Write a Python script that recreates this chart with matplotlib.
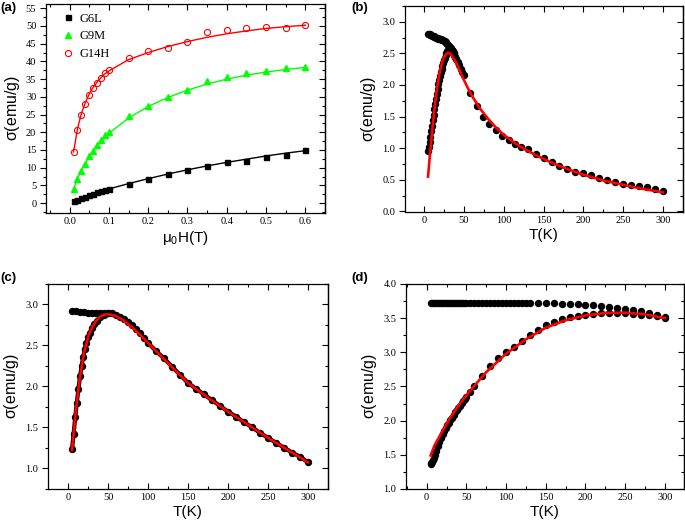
import matplotlib
matplotlib.use("Agg")
import matplotlib.pyplot as plt
from matplotlib.ticker import MultipleLocator

# ---- panel (a): magnetization vs field ----
H = [0.01, 0.02, 0.03, 0.04, 0.05, 0.06, 0.07, 0.08, 0.09, 0.1,
     0.15, 0.2, 0.25, 0.3, 0.35, 0.4, 0.45, 0.5, 0.55, 0.6]
g6l = [0.6, 1.0, 1.4, 1.8, 2.2, 2.6, 3.0, 3.3, 3.6, 3.9,
       5.4, 6.9, 8.3, 9.4, 10.6, 11.7, 12.0, 13.0, 13.7, 14.9]
g9m = [3.9, 6.8, 9.0, 11.1, 13.3, 14.8, 16.4, 17.8, 19.1, 20.1,
       24.5, 27.5, 29.9, 31.9, 34.4, 35.5, 36.7, 37.4, 38.1, 38.3]
g14h = [14.4, 20.5, 24.8, 27.9, 30.4, 32.4, 33.8, 35.4, 36.7, 37.5,
        40.9, 42.8, 43.9, 45.5, 48.2, 48.8, 49.4, 49.8, 49.4, 50.3]
g6l_fit = [0.5, 0.95, 1.4, 1.8, 2.2, 2.6, 3.0, 3.35, 3.7, 4.0,
           5.5, 6.9, 8.2, 9.4, 10.5, 11.5, 12.4, 13.3, 14.1, 14.8]
g9m_fit = [3.9, 6.9, 9.3, 11.3, 13.1, 14.7, 16.1, 17.4, 18.6, 19.7,
           24.0, 27.3, 29.8, 31.9, 33.6, 35.0, 36.1, 37.0, 37.7, 38.3]
g14h_fit = [14.4, 21.0, 25.3, 28.4, 30.8, 32.7, 34.2, 35.4, 36.5, 37.3,
            40.5, 42.5, 44.2, 45.6, 46.8, 47.8, 48.6, 49.3, 49.8, 50.2]

# ---- panel (b) ----
b_zfc_T = [5, 6, 7, 8, 9, 10, 11, 12, 13, 14, 15, 16, 17, 18, 19, 20, 21, 22, 23, 24,
           25, 26, 27, 28, 29, 30, 31, 32, 33, 34, 35, 36, 37, 38, 39, 40, 42, 44, 46, 48,
           50, 58, 66, 74, 82, 90, 98, 106, 114, 122, 130, 140, 150, 160, 170, 180, 190,
           200, 210, 220, 230, 240, 250, 260, 270, 280, 290, 300]
b_zfc = [0.95, 1.02, 1.10, 1.18, 1.27, 1.35, 1.44, 1.53, 1.62, 1.70, 1.78, 1.86, 1.94,
         2.01, 2.08, 2.14, 2.20, 2.25, 2.30, 2.35, 2.39, 2.43, 2.47, 2.51, 2.54, 2.56,
         2.58, 2.59, 2.59, 2.58, 2.56, 2.53, 2.50, 2.47, 2.44, 2.41, 2.36, 2.31, 2.25,
         2.20, 2.15, 1.88, 1.66, 1.50, 1.38, 1.28, 1.20, 1.13, 1.07, 1.02, 0.98, 0.91,
         0.84, 0.78, 0.72, 0.67, 0.63, 0.60, 0.57, 0.53, 0.50, 0.47, 0.44, 0.42, 0.40,
         0.38, 0.36, 0.33]
b_fc_T = [5, 6, 7, 8, 9, 10, 11, 12, 13, 14, 15, 16, 17, 18, 19, 20, 21, 22, 23, 24,
          25, 26, 27, 28, 29, 30, 31, 32, 33, 34, 35, 36, 37, 38, 39, 40]
b_fc = [2.81, 2.805, 2.80, 2.79, 2.785, 2.78, 2.775, 2.77, 2.765, 2.76, 2.75, 2.745,
        2.74, 2.735, 2.73, 2.725, 2.72, 2.715, 2.71, 2.705, 2.70, 2.69, 2.68, 2.665,
        2.65, 2.63, 2.615, 2.60, 2.58, 2.565, 2.55, 2.52, 2.50, 2.47, 2.44, 2.41]
b_fit_T = [5, 7, 9, 11, 13, 15, 17, 19, 21, 23, 25, 27, 29, 31, 33, 35, 38, 41, 45, 50,
           55, 60, 70, 80, 90, 100, 120, 140, 160, 180, 200, 225, 250, 275, 300]
b_fit = [0.55, 0.85, 1.12, 1.38, 1.62, 1.83, 2.01, 2.16, 2.28, 2.37, 2.44, 2.48, 2.505,
         2.51, 2.49, 2.46, 2.40, 2.33, 2.22, 2.08, 1.95, 1.83, 1.63, 1.47, 1.33, 1.21,
         1.03, 0.89, 0.77, 0.67, 0.58, 0.49, 0.42, 0.355, 0.30]

# ---- panel (c) ----
c_zfc_T = [5, 7, 9, 11, 13, 15, 17, 19, 21, 23, 25, 27, 30, 33, 36, 40, 45, 50, 55, 60,
           65, 70, 75, 80, 85, 90, 95, 100, 110, 120, 130, 140, 150, 160, 170, 180, 190,
           200, 210, 220, 230, 240, 250, 260, 270, 280, 290, 300]
c_zfc = [1.23, 1.42, 1.62, 1.80, 1.97, 2.12, 2.25, 2.36, 2.45, 2.53, 2.60, 2.65, 2.71,
         2.76, 2.80, 2.845, 2.875, 2.89, 2.89, 2.875, 2.85, 2.82, 2.785, 2.75, 2.70,
         2.65, 2.59, 2.53, 2.43, 2.34, 2.24, 2.14, 2.04, 1.97, 1.90, 1.83, 1.76, 1.69,
         1.63, 1.56, 1.50, 1.43, 1.37, 1.31, 1.25, 1.19, 1.14, 1.07]
c_fc_T = [5, 10, 15, 20, 25, 30, 35, 40, 45, 50]
c_fc = [2.92, 2.915, 2.91, 2.905, 2.90, 2.90, 2.895, 2.895, 2.89, 2.89]
c_fit_T = [5, 10, 15, 20, 25, 30, 35, 40, 45, 50, 60, 70, 80, 90, 100, 125, 150, 175,
           200, 225, 250, 275, 300]
c_fit = [1.22, 1.72, 2.12, 2.41, 2.60, 2.72, 2.80, 2.85, 2.875, 2.88, 2.86, 2.80, 2.72,
         2.63, 2.53, 2.28, 2.04, 1.86, 1.69, 1.53, 1.37, 1.22, 1.07]

# ---- panel (d) ----
d_fc_T = [5, 7, 9, 11, 13, 15, 17, 19, 21, 23, 25, 27, 29, 31, 33, 35, 37, 39, 41, 43,
          45, 47, 49, 55, 60, 65, 70, 75, 80, 85, 90, 95, 100, 105, 110, 115, 120, 125,
          130, 140, 150, 160, 170, 180, 190, 200, 210, 220, 230, 240, 250, 260, 270,
          280, 290, 300]
d_fc = [3.72, 3.72, 3.72, 3.72, 3.72, 3.72, 3.72, 3.72, 3.72, 3.72, 3.72, 3.72, 3.72,
        3.72, 3.72, 3.72, 3.72, 3.72, 3.72, 3.72, 3.72, 3.72, 3.72, 3.72, 3.72, 3.72,
        3.72, 3.72, 3.72, 3.72, 3.72, 3.72, 3.72, 3.72, 3.72, 3.72, 3.72, 3.72, 3.72,
        3.72, 3.72, 3.715, 3.71, 3.705, 3.70, 3.695, 3.69, 3.68, 3.665, 3.65, 3.64,
        3.62, 3.60, 3.575, 3.55, 3.51]
d_zfc_T = [5, 6, 7, 8, 9, 10, 12, 14, 16, 18, 20, 22, 24, 26, 28, 30, 32, 34, 36, 38,
           40, 42, 44, 46, 48, 50, 55, 60, 70, 80, 90, 100, 110, 120, 130, 140, 150,
           160, 170, 180, 190, 200, 210, 220, 230, 240, 250, 260, 270, 280, 290, 300]
d_zfc = [1.37, 1.38, 1.40, 1.43, 1.46, 1.49, 1.56, 1.63, 1.69, 1.75, 1.80, 1.85, 1.89,
         1.93, 1.97, 2.01, 2.04, 2.08, 2.12, 2.15, 2.19, 2.22, 2.26, 2.29, 2.32, 2.35,
         2.42, 2.50, 2.66, 2.80, 2.91, 3.00, 3.08, 3.17, 3.25, 3.33, 3.40, 3.45, 3.49,
         3.51, 3.53, 3.55, 3.56, 3.57, 3.58, 3.58, 3.575, 3.565, 3.55, 3.54, 3.525, 3.50]
d_fit_T = [5, 10, 20, 30, 40, 50, 60, 75, 100, 125, 150, 175, 200, 225, 250, 275, 300]
d_fit = [1.49, 1.64, 1.85, 2.05, 2.22, 2.37, 2.51, 2.71, 2.98, 3.19, 3.36, 3.47, 3.54,
         3.575, 3.58, 3.555, 3.50]

SERIF = "Liberation Serif"
SANS = "Liberation Sans"
plt.rcParams["mathtext.default"] = "regular"
plt.rcParams["font.family"] = SANS

fig = plt.figure(figsize=(6.85, 5.25), dpi=100)
ax_a = fig.add_axes([0.0672, 0.5949, 0.4073, 0.3975])
ax_b = fig.add_axes([0.5912, 0.5962, 0.4058, 0.3924])
ax_c = fig.add_axes([0.0701, 0.0686, 0.4088, 0.3905])
ax_d = fig.add_axes([0.5927, 0.0686, 0.4058, 0.3905])


def style_axes(ax, xmaj, xmin, ymaj, ymin):
    ax.xaxis.set_major_locator(MultipleLocator(xmaj))
    ax.xaxis.set_minor_locator(MultipleLocator(xmin))
    ax.yaxis.set_major_locator(MultipleLocator(ymaj))
    ax.yaxis.set_minor_locator(MultipleLocator(ymin))
    ax.tick_params(axis="x", which="both", direction="in", top=True, bottom=True)
    ax.tick_params(axis="y", which="both", direction="out", left=True, right=False)
    ax.tick_params(which="major", length=4, width=0.8, labelsize=7.5, pad=3)
    ax.tick_params(which="minor", length=2.5, width=0.8)
    for lab in ax.get_xticklabels() + ax.get_yticklabels():
        lab.set_fontfamily(SERIF)
    for s in ax.spines.values():
        s.set_linewidth(0.9)
    ax.set_ylabel(r"$\sigma$(emu/g)", fontsize=11.5, family=SANS, labelpad=3)
    # inward ticks on the right side
    sec = ax.secondary_yaxis("right")
    sec.yaxis.set_major_locator(MultipleLocator(ymaj))
    sec.yaxis.set_minor_locator(MultipleLocator(ymin))
    sec.tick_params(which="both", direction="in", width=0.8, labelright=False)
    sec.tick_params(which="major", length=4)
    sec.tick_params(which="minor", length=2.5)
    sec.spines["right"].set_linewidth(0.9)


# (a)
ax_a.plot(H, g6l_fit, color="black", lw=1)
ax_a.plot(H, g9m_fit, color="#00ff00", lw=1)
ax_a.plot(H, g14h_fit, color="red", lw=1)
ax_a.plot(H, g6l, "s", color="black", ms=3.6, label="G6L")
ax_a.plot(H, g9m, "^", color="#00ff00", ms=4.2, label="G9M")
ax_a.plot(H, g14h, "o", mfc="none", mec="red", mew=0.8, ms=4.4, label="G14H")
ax_a.set_xlim(-0.06, 0.65)
ax_a.set_ylim(-2.7, 56.2)
style_axes(ax_a, 0.1, 0.05, 5, 2.5)
ax_a.set_xlabel(r"$\mu_0$H(T)", fontsize=11, labelpad=2)
ax_a.legend(loc="upper left", frameon=False, prop={"family": SERIF, "size": 9},
            handletextpad=0.3, borderaxespad=0.3, labelspacing=0.45,
            handlelength=1.2, bbox_to_anchor=(0.02, 1.0))

# (b)
ax_b.plot(b_zfc_T, b_zfc, "o", color="black", ms=4.3)
ax_b.plot(b_fc_T, b_fc, "o", color="black", ms=4.3)
ax_b.plot(b_fit_T, b_fit, color="red", lw=1.9)
ax_b.set_xlim(-24, 325)
ax_b.set_ylim(-0.01, 3.25)
style_axes(ax_b, 50, 25, 0.5, 0.25)
ax_b.set_xlabel("T(K)", fontsize=11, labelpad=2)

# (c)
ax_c.plot(c_zfc_T, c_zfc, "o-", color="black", ms=4.3, lw=3)
ax_c.plot(c_fc_T, c_fc, "o-", color="black", ms=4.3, lw=3)
ax_c.plot(c_fit_T, c_fit, color="red", lw=1.9)
ax_c.set_xlim(-25, 325)
ax_c.set_ylim(0.745, 3.25)
style_axes(ax_c, 50, 25, 0.5, 0.25)
ax_c.set_xlabel("T(K)", fontsize=11, labelpad=2)

# (d)
ax_d.plot(d_fc_T, d_fc, "o", color="black", ms=4.3)
ax_d.plot(d_zfc_T, d_zfc, "o", color="black", ms=4.3)
ax_d.plot(d_fit_T, d_fit, color="red", lw=1.9)
ax_d.set_xlim(-26, 324)
ax_d.set_ylim(1.0, 4.0)
style_axes(ax_d, 50, 25, 0.5, 0.25)
ax_d.set_xlabel("T(K)", fontsize=11, labelpad=2)

# panel letters
for x, y, t in [(0.001, 0.984, "(a)"), (0.513, 0.984, "(b)"),
                (0.001, 0.47, "(c)"), (0.513, 0.47, "(d)")]:
    fig.text(x, y, t, fontsize=9.5, fontweight="bold", family=SANS, va="center")

fig.savefig("out.png", dpi=100)
